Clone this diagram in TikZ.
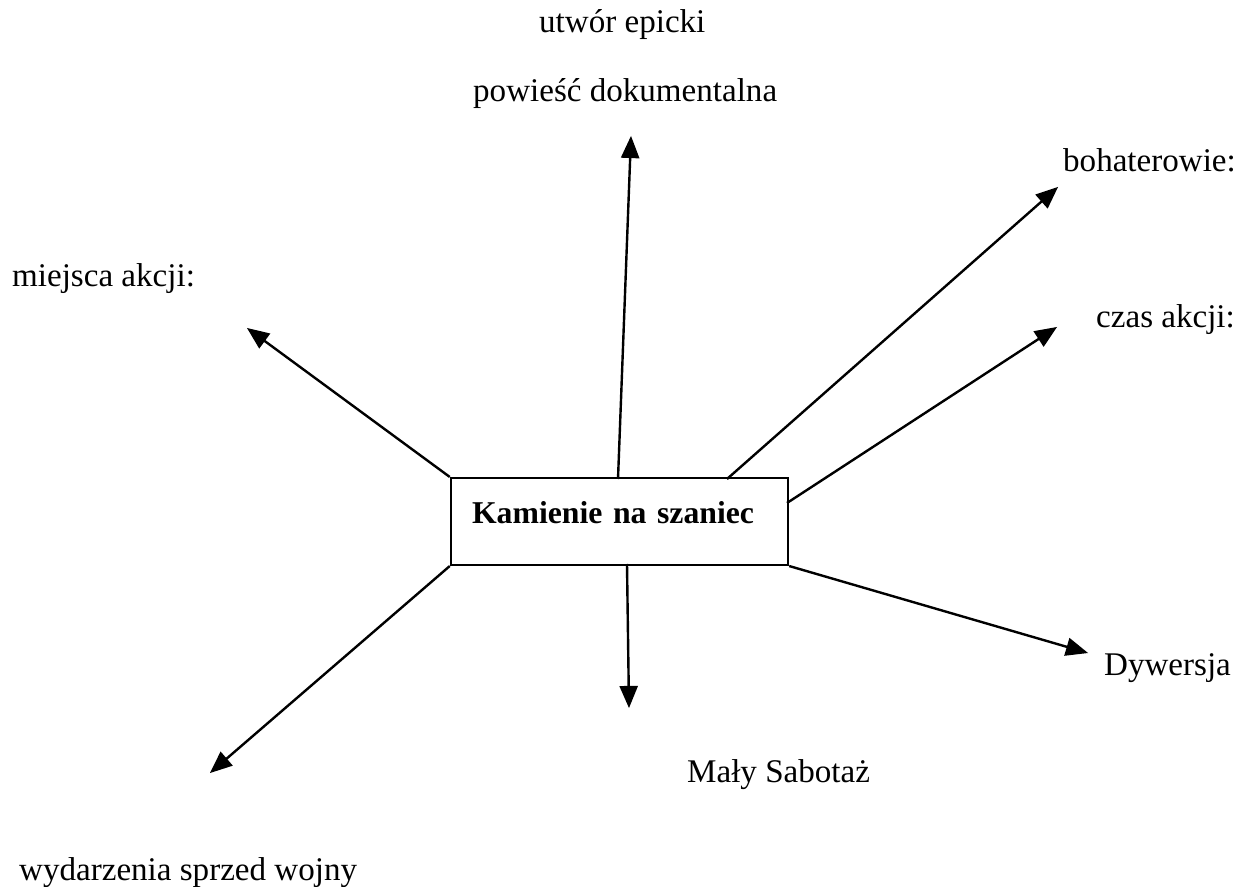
\documentclass[tikz,border=0pt]{standalone}
\usepackage{fontspec}
\setmainfont{Liberation Serif}
\usepackage{tikz}
\usetikzlibrary{arrows}

\tikzset{
    label/.style={anchor=base west,inner sep=0pt,font=\fontsize{12.4}{14}\selectfont},
    titlebox/.style={draw,line width=0.9pt,inner xsep=7.9pt,inner ysep=0pt,
        text width=110.6pt,align=left,text height=16.9pt,text depth=15.6pt,
        font=\fontsize{11.9}{14}\selectfont\bfseries},
}

\begin{document}
\begin{tikzpicture}[x=0.375pt,y=-0.375pt]
\useasboundingbox (0,0) rectangle (1247,887);
\begin{scope}[>=triangle 45,line width=0.9pt]
    % centre
    \node[titlebox] (kns) at (619.5,521.5) {Kamienie na szaniec};

    % labels
    \node[label] (utwor) at (538,33) {utwór epicki};
    \node[label] (powiesc) at (472,102) {powieść dokumentalna};
    \node[label] (bohat) at (1062,172) {bohaterowie:};
    \node[label] (czas) at (1095,328) {czas akcji:};
    \node[label] (miejsca) at (11,287) {miejsca akcji:};
    \node[label] (dywersja) at (1103,675) {Dywersja};
    \node[label] (sabotaz) at (686,782) {Mały Sabotaż};
    \node[label] (wydarz) at (18,880) {wydarzenia sprzed wojny};

    % arrow ends
    \coordinate (upS) at (618,479);
    \coordinate (upE) at (631,136);
    \coordinate (bohS) at (727,479);
    \coordinate (bohE) at (1058,187);
    \coordinate (czasS) at (787,503);
    \coordinate (czasE) at (1057,327);
    \coordinate (dywE) at (1088,653);
    \coordinate (sabS) at (627,564);
    \coordinate (sabE) at (629,708);
    \coordinate (wydE) at (210,773);
    \coordinate (miejE) at (247,328);

    \draw[->] (upS) -- (upE);
    \draw[->] (bohS) -- (bohE);
    \draw[->] (czasS) -- (czasE);
    \draw[->] (kns.south east) -- (dywE);
    \draw[->] (sabS) -- (sabE);
    \draw[->] (kns.south west) -- (wydE);
    \draw[->] (kns.north west) -- (miejE);
\end{scope}
\end{tikzpicture}
\end{document}
